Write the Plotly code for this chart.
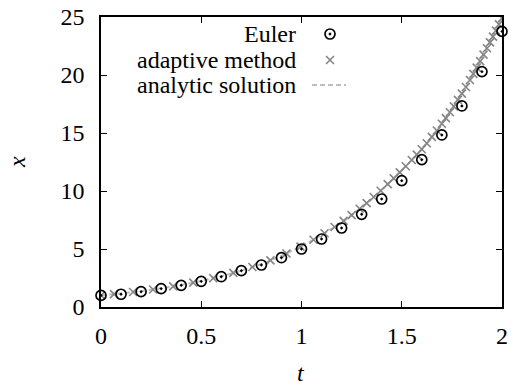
import plotly.graph_objects as go

# Euler method (step 0.1)
euler_t = [0.0, 0.1, 0.2, 0.3, 0.4, 0.5, 0.6, 0.7, 0.8, 0.9, 1.0,
           1.1, 1.2, 1.3, 1.4, 1.5, 1.6, 1.7, 1.8, 1.9, 2.0]
euler_x = [1.00, 1.10, 1.32, 1.58, 1.87, 2.21, 2.61, 3.13, 3.62, 4.25, 5.00,
           5.86, 6.81, 7.99, 9.31, 10.89, 12.70, 14.83, 17.33, 20.29, 23.76]

# adaptive method
adapt_t = [0.0, 0.065, 0.16, 0.26, 0.36, 0.46, 0.56, 0.66, 0.755, 0.845, 0.925,
           0.995, 1.06, 1.115, 1.165, 1.21, 1.25, 1.29, 1.325, 1.36, 1.395,
           1.43, 1.46, 1.49, 1.52, 1.55, 1.575, 1.60, 1.625, 1.65, 1.675,
           1.70, 1.72, 1.74, 1.76, 1.78, 1.80, 1.82, 1.84, 1.857, 1.874,
           1.891, 1.908, 1.925, 1.94, 1.955, 1.97, 1.985, 2.0]
adapt_x = [1.00, 1.11, 1.29, 1.51, 1.78, 2.10, 2.49, 2.94, 3.45, 4.02, 4.61,
           5.20, 5.80, 6.36, 6.90, 7.42, 7.92, 8.47, 8.95, 9.48, 10.02,
           10.59, 11.09, 11.61, 12.13, 12.67, 13.13, 13.60, 14.12, 14.66, 15.22,
           15.80, 16.28, 16.79, 17.30, 17.85, 18.40, 18.97, 19.57, 20.10, 20.64,
           21.20, 21.76, 22.31, 22.81, 23.31, 23.83, 24.36, 24.90]

# analytic solution
anal_t = [0.0, 0.1, 0.2, 0.3, 0.4, 0.5, 0.6, 0.7, 0.8, 0.9, 1.0,
          1.1, 1.2, 1.3, 1.4, 1.5, 1.6, 1.7, 1.8, 1.9, 2.0]
anal_x = [1.00, 1.17, 1.37, 1.61, 1.90, 2.25, 2.66, 3.14, 3.72, 4.42, 5.25,
          6.20, 7.30, 8.60, 10.1, 11.8, 13.6, 15.8, 18.4, 21.5, 24.9]

x_ticks = [0, 0.5, 1, 1.5, 2]
x_ticklabels = ["0", "0.5", "1", "1.5", "2"]
y_ticks = [0, 5, 10, 15, 20, 25]
y_ticklabels = ["0", "5", "10", "15", "20", "25"]

labels = ["Euler", "adaptive method", "analytic solution"]

FONT = "Liberation Serif, Times New Roman, DejaVu Serif, serif"
FS = 24
W, H = 513, 390
L, R, T, B = 101, 11, 17, 83
pw, ph = W - L - R, H - T - B

def px(xp):
    return (xp - L) / pw

def py(yp):
    return (H - B - yp) / ph

CROSS = dict(symbol="x-thin-open", size=8, color="#858585",
             line=dict(color="#858585", width=1.6))
CIRC = dict(symbol="circle-open-dot", size=10, color="black",
            line=dict(color="black", width=1.7))
DASH = dict(color="#bcbcbc", width=2, dash="5px,3px")

fig = go.Figure()

fig.add_trace(go.Scatter(x=anal_t, y=anal_x, mode="lines",
                         line=dict(shape="spline", **DASH), showlegend=False))
fig.add_trace(go.Scatter(x=adapt_t, y=adapt_x, mode="markers", marker=CROSS,
                         showlegend=False))
fig.add_trace(go.Scatter(x=euler_t, y=euler_x, mode="markers", marker=CIRC,
                         showlegend=False, cliponaxis=False))

# legend samples on an overlay axis in plot-fraction coordinates
fig.add_trace(go.Scatter(x=[px(330)], y=[py(34)], mode="markers", xaxis="x2", yaxis="y2",
                         marker=CIRC, showlegend=False, hoverinfo="skip"))
fig.add_trace(go.Scatter(x=[px(330)], y=[py(60)], mode="markers", xaxis="x2", yaxis="y2",
                         marker=CROSS, showlegend=False, hoverinfo="skip"))
fig.add_trace(go.Scatter(x=[px(312), px(346)], y=[py(85), py(85)], mode="lines",
                         xaxis="x2", yaxis="y2", line=DASH,
                         showlegend=False, hoverinfo="skip"))

annotations = []
for lab, yp in zip(labels, [34, 60, 85]):
    annotations.append(dict(text=lab, x=px(298), y=py(yp), xref="paper", yref="paper",
                            xanchor="right", yanchor="middle", showarrow=False,
                            font=dict(family=FONT, size=FS, color="black")))
annotations.append(dict(text="<i>t</i>", x=px(301), y=py(373), xref="paper", yref="paper",
                        xanchor="center", yanchor="middle", showarrow=False,
                        font=dict(family=FONT, size=FS, color="black")))
annotations.append(dict(text="<i>x</i>", x=px(17), y=py(162), xref="paper", yref="paper",
                        xanchor="center", yanchor="middle", showarrow=False, textangle=-90,
                        font=dict(family=FONT, size=FS, color="black")))

axis_common = dict(showgrid=False, zeroline=False, showline=True, linecolor="black",
                   linewidth=1.5, mirror="allticks", ticks="inside", ticklen=6,
                   tickwidth=1, tickcolor="black", automargin=False,
                   tickfont=dict(family=FONT, size=FS, color="black"))

fig.update_layout(
    width=W, height=H,
    margin=dict(l=L, r=R, t=T, b=B),
    paper_bgcolor="white", plot_bgcolor="white",
    showlegend=False,
    font=dict(family=FONT, size=FS, color="black"),
    xaxis=dict(range=[0, 2], tickvals=x_ticks, ticktext=x_ticklabels,
               ticklabelstandoff=6, **axis_common),
    yaxis=dict(range=[0, 25], tickvals=y_ticks, ticktext=y_ticklabels,
               ticklabelstandoff=10, **axis_common),
    xaxis2=dict(range=[0, 1], overlaying="x", visible=False, fixedrange=True),
    yaxis2=dict(range=[0, 1], overlaying="y", visible=False, fixedrange=True),
    annotations=annotations,
)

fig.write_html("out.html", config={"displayModeBar": False},
               post_script="document.body.style.margin='0';document.body.style.overflow='hidden';")
